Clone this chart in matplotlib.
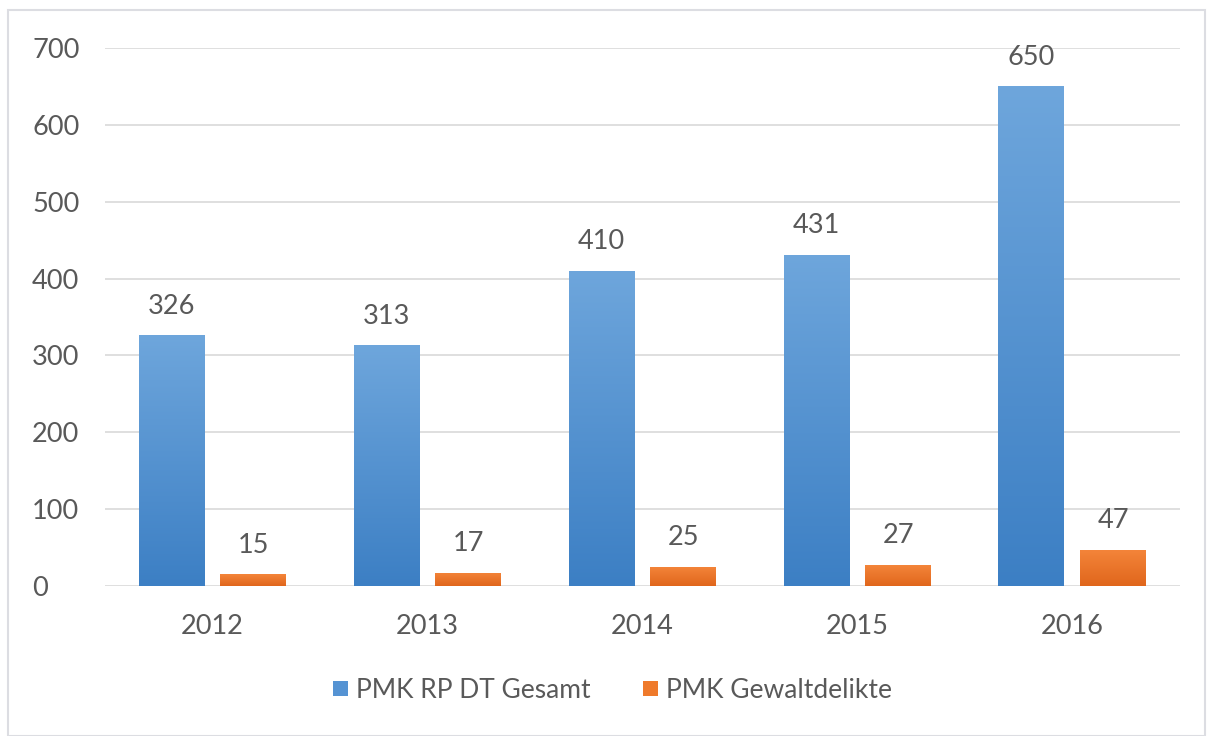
import numpy as np
import matplotlib
matplotlib.use("Agg")
import matplotlib.pyplot as plt
from matplotlib.patches import Rectangle, Patch
from matplotlib.colors import LinearSegmentedColormap

years = ["2012", "2013", "2014", "2015", "2016"]
gesamt = [326, 313, 410, 431, 650]
gewalt = [15, 17, 25, 27, 47]

plt.rcParams['font.family'] = ['Lato', 'DejaVu Sans']
text_color = "#595959"
grid_color = "#d9d9d9"

fig = plt.figure(figsize=(12.13, 7.36), dpi=100)
ax = fig.add_axes([0.0866, 0.2038, 0.886, 0.731])

# light frame round the chart
fig.patches.append(Rectangle((8 / 1213, 0.0), 1197 / 1213, 1 - 10 / 736,
                             transform=fig.transFigure, fill=False,
                             edgecolor="#dcdde2", linewidth=1.5))

x = np.arange(len(years))
width = 0.307
offset = 0.19

blue_cmap = LinearSegmentedColormap.from_list("b", ["#3c7fc4", "#6ea6dc"])
orange_cmap = LinearSegmentedColormap.from_list("o", ["#e0661c", "#f4853a"])


def gradient_bars(xs, vals, cmap):
    bars = ax.bar(xs, vals, width, color="none", edgecolor="none", zorder=3)
    grad = np.linspace(0, 1, 256).reshape(-1, 1)
    for b in bars:
        x0 = b.get_x()
        h = b.get_height()
        im = ax.imshow(grad, cmap=cmap, origin="lower", aspect="auto",
                       extent=[x0, x0 + b.get_width(), 0, h], zorder=3)
        im.set_clip_path(b)
    return bars


b1 = gradient_bars(x - offset, gesamt, blue_cmap)
b2 = gradient_bars(x + offset, gewalt, orange_cmap)

for xs, vals in [(x - offset, gesamt), (x + offset, gewalt)]:
    for xi, v in zip(xs, vals):
        ax.text(xi, v + 22, str(v), ha="center", va="bottom",
                fontsize=19.5, color=text_color, zorder=4)

ax.set_xlim(-0.5, 4.5)
ax.set_ylim(0, 700)
ax.set_yticks(range(0, 701, 100))
ax.set_xticks(x)
ax.set_xticklabels(years)
ax.tick_params(axis="both", length=0, labelsize=19.5, labelcolor=text_color)
ax.tick_params(axis="y", pad=52.5)
ax.tick_params(axis="x", pad=20)
for lbl in ax.get_yticklabels():
    lbl.set_horizontalalignment("left")
ax.grid(axis="y", color=grid_color, linewidth=1.2, zorder=0)
ax.set_axisbelow(True)
for s in ax.spines.values():
    s.set_visible(False)

handles = [Patch(facecolor="#5593d3", label="PMK RP DT Gesamt"),
           Patch(facecolor="#ef7a2b", label="PMK Gewaltdelikte")]
leg = fig.legend(handles=handles, loc="center", bbox_to_anchor=(0.505, 0.062),
                 ncol=2, frameon=False, fontsize=19, handlelength=0.55,
                 handleheight=0.55, handletextpad=0.3, columnspacing=2.0,
                 labelcolor=text_color)

fig.savefig("out.png", dpi=100)
